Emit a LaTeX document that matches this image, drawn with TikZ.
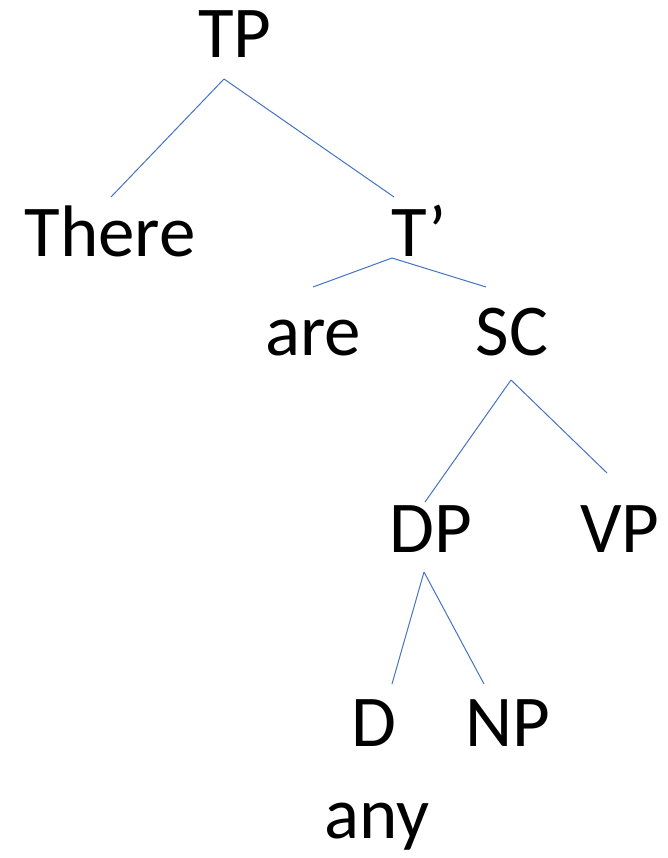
\documentclass[tikz,border=0pt]{standalone}
\usepackage{fontspec}
\setmainfont{Carlito}
\definecolor{branchblue}{HTML}{4472C4}

\begin{document}
\begin{tikzpicture}[x=1pt, y=-1pt,
catnode/.style={inner sep=0pt, anchor=base, font=\fontsize{73}{80}\selectfont},
branch/.style={draw=branchblue, line width=1pt},
]
\useasboundingbox (0,0) rectangle (667,858);
%Nodes
\node[catnode]		(tp)		at (235,58)		{TP};
\node[catnode]		(there)		at (110,257)	{There};
\node[catnode]		(tbar)		at (419,257)	{T’};
\node[catnode]		(are)		at (313,355)	{are};
\node[catnode]		(sc)		at (512,355)	{SC};
\node[catnode]		(dp)		at (431,552)	{DP};
\node[catnode]		(vp)		at (620,552)	{VP};
\node[catnode]		(d)			at (374,746)	{D};
\node[catnode]		(np)		at (508,746)	{NP};
\node[catnode]		(any)		at (377,838)	{any};

%Branch ends
\coordinate (tpfoot)	at (224,79);
\coordinate (therehead)	at (111,197);
\coordinate (tbarhead)	at (394,197);
\coordinate (tbarfoot)	at (392,258);
\coordinate (arehead)	at (313,287);
\coordinate (schead)	at (486,287);
\coordinate (scfoot)	at (511,380);
\coordinate (dphead)	at (425,502);
\coordinate (vphead)	at (607,473);
\coordinate (dpfoot)	at (424,572);
\coordinate (dhead)		at (392,684);
\coordinate (nphead)	at (484,684);

%Lines
\draw[branch] (tpfoot) -- (therehead);
\draw[branch] (tpfoot) -- (tbarhead);
\draw[branch] (tbarfoot) -- (arehead);
\draw[branch] (tbarfoot) -- (schead);
\draw[branch] (scfoot) -- (dphead);
\draw[branch] (scfoot) -- (vphead);
\draw[branch] (dpfoot) -- (dhead);
\draw[branch] (dpfoot) -- (nphead);
\end{tikzpicture}
\end{document}
